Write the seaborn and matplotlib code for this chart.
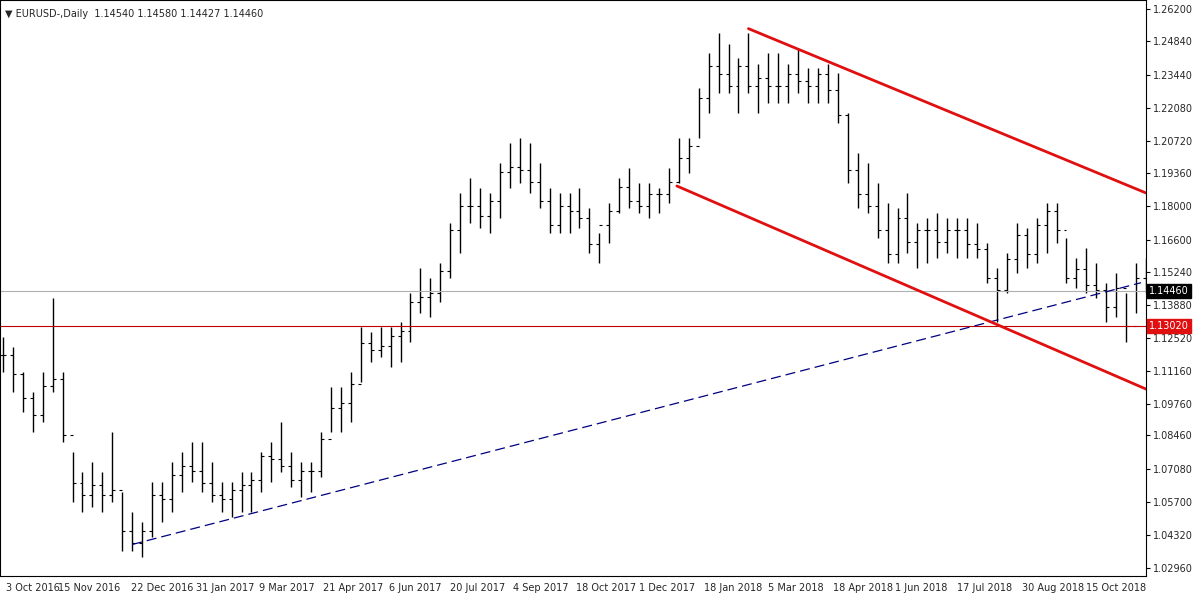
import seaborn as sns
import matplotlib.pyplot as plt
import numpy as np

sns.set_style('white')
plt.rcParams['font.family'] = ['DejaVu Sans']

# price ranges, one bar per ~week
highs = [1.1254, 1.1212, 1.1109, 1.1026, 1.1109, 1.1419, 1.1109, 1.0778, 1.0695, 1.0736,
         1.0695, 1.0860, 1.0612, 1.0529, 1.0488, 1.0653, 1.0653, 1.0736, 1.0778, 1.0819,
         1.0819, 1.0736, 1.0653, 1.0653, 1.0695, 1.0695, 1.0778, 1.0819, 1.0902, 1.0778,
         1.0736, 1.0736, 1.0860, 1.1047, 1.1047, 1.1109, 1.1295, 1.1275, 1.1295, 1.1295,
         1.1316, 1.1440, 1.1544, 1.1502, 1.1564, 1.1730, 1.1854, 1.1916, 1.1875, 1.1854,
         1.1978, 1.2061, 1.2082, 1.2061, 1.1978, 1.1875, 1.1854, 1.1854, 1.1875, 1.1792,
         1.1688, 1.1813, 1.1916, 1.1958, 1.1896, 1.1896, 1.1875, 1.1958, 1.2082, 1.2082,
         1.2289, 1.2434, 1.2517, 1.2475, 1.2413, 1.2517, 1.2392, 1.2434, 1.2434, 1.2392,
         1.2454, 1.2372, 1.2372, 1.2392, 1.2351, 1.2185, 1.2020, 1.1978, 1.1896, 1.1813,
         1.1792, 1.1854, 1.1730, 1.1751, 1.1771, 1.1751, 1.1751, 1.1751, 1.1730, 1.1647,
         1.1544, 1.1606, 1.1730, 1.1709, 1.1751, 1.1813, 1.1813, 1.1668, 1.1585, 1.1626,
         1.1564, 1.1481, 1.1523, 1.1440, 1.1564, 1.1585]
lows = [1.1109, 1.1026, 1.0943, 1.0860, 1.0902, 1.1026, 1.0819, 1.0571, 1.0529, 1.0550,
        1.0529, 1.0571, 1.0364, 1.0364, 1.0343, 1.0426, 1.0488, 1.0529, 1.0612, 1.0653,
        1.0612, 1.0571, 1.0529, 1.0509, 1.0529, 1.0529, 1.0612, 1.0653, 1.0695, 1.0633,
        1.0591, 1.0612, 1.0674, 1.0860, 1.0860, 1.0902, 1.1067, 1.1150, 1.1171, 1.1130,
        1.1150, 1.1233, 1.1357, 1.1337, 1.1399, 1.1502, 1.1606, 1.1730, 1.1709, 1.1688,
        1.1751, 1.1875, 1.1896, 1.1854, 1.1792, 1.1688, 1.1688, 1.1688, 1.1709, 1.1606,
        1.1564, 1.1647, 1.1771, 1.1792, 1.1771, 1.1751, 1.1771, 1.1813, 1.1896, 1.1937,
        1.2082, 1.2185, 1.2268, 1.2268, 1.2185, 1.2268, 1.2185, 1.2227, 1.2227, 1.2227,
        1.2268, 1.2227, 1.2227, 1.2227, 1.2144, 1.1896, 1.1792, 1.1771, 1.1668, 1.1564,
        1.1564, 1.1606, 1.1544, 1.1564, 1.1585, 1.1606, 1.1585, 1.1585, 1.1585, 1.1481,
        1.1316, 1.1440, 1.1523, 1.1544, 1.1564, 1.1606, 1.1647, 1.1481, 1.1461, 1.1440,
        1.1419, 1.1316, 1.1337, 1.1233, 1.1357, 1.1440]
closes = [1.1180, 1.1100, 1.1000, 1.0930, 1.1050, 1.1080, 1.0850, 1.0650, 1.0600, 1.0640,
          1.0600, 1.0620, 1.0450, 1.0400, 1.0450, 1.0600, 1.0580, 1.0680, 1.0720, 1.0700,
          1.0650, 1.0600, 1.0580, 1.0620, 1.0640, 1.0660, 1.0760, 1.0750, 1.0720, 1.0660,
          1.0700, 1.0700, 1.0830, 1.0960, 1.0980, 1.1060, 1.1230, 1.1200, 1.1220, 1.1260,
          1.1280, 1.1400, 1.1420, 1.1440, 1.1530, 1.1700, 1.1800, 1.1800, 1.1760, 1.1820,
          1.1940, 1.1960, 1.1950, 1.1900, 1.1820, 1.1720, 1.1800, 1.1780, 1.1750, 1.1640,
          1.1720, 1.1780, 1.1880, 1.1820, 1.1800, 1.1850, 1.1850, 1.1900, 1.2000, 1.2050,
          1.2250, 1.2380, 1.2350, 1.2300, 1.2380, 1.2300, 1.2330, 1.2300, 1.2300, 1.2350,
          1.2320, 1.2300, 1.2350, 1.2280, 1.2180, 1.1950, 1.1850, 1.1800, 1.1700, 1.1600,
          1.1750, 1.1650, 1.1700, 1.1700, 1.1650, 1.1700, 1.1700, 1.1640, 1.1620, 1.1500,
          1.1450, 1.1580, 1.1680, 1.1600, 1.1720, 1.1780, 1.1700, 1.1500, 1.1540, 1.1470,
          1.1450, 1.1380, 1.1460, 1.1300, 1.1500, 1.1446]

tick_labels = ['3 Oct 2016', '15 Nov 2016', '22 Dec 2016', '31 Jan 2017', '9 Mar 2017',
               '21 Apr 2017', '6 Jun 2017', '20 Jul 2017', '4 Sep 2017', '18 Oct 2017',
               '1 Dec 2017', '18 Jan 2018', '5 Mar 2018', '18 Apr 2018', '1 Jun 2018',
               '17 Jul 2018', '30 Aug 2018', '15 Oct 2018']
tick_pos = [0.3, 5.5, 12.9, 19.4, 25.8, 32.2, 38.8, 45.0, 51.3, 57.7,
            64.0, 70.5, 77.0, 83.5, 89.7, 96.0, 102.5, 109.0]
price_ticks = [1.0296, 1.0432, 1.0570, 1.0708, 1.0846, 1.0976, 1.1116, 1.1252, 1.1388,
               1.1524, 1.1660, 1.1800, 1.1936, 1.2072, 1.2208, 1.2344, 1.2484, 1.2620]

last_price = 1.1446
support = 1.1302
trend_pts = ([13, 114.5], [1.0393, 1.1481])          # blue dashed
upper_chan = ([75, 115], [1.2537, 1.1854])            # red channel
lower_chan = ([67.8, 115], [1.1883, 1.1039])

fig = plt.figure(figsize=(12, 6), dpi=100)
ax = fig.add_axes([0.0, 0.04, 0.955, 0.96])

x = np.arange(len(highs))
opens = np.r_[closes[0], closes[:-1]]
ax.vlines(x, lows, highs, color='black', lw=1)
ax.hlines(opens, x - 0.3, x, color='black', lw=0.8)
ax.hlines(closes, x, x + 0.3, color='black', lw=0.8)

ax.axhline(last_price, color='#b0b0b0', lw=0.8)
ax.axhline(support, color='#c00000', lw=0.8)
ax.plot(*trend_pts, color='#000080', lw=0.9, ls=(0, (8, 4)))
ax.plot(*upper_chan, color='#e01010', lw=2)
ax.plot(*lower_chan, color='#e01010', lw=2)

ax.set_xlim(-0.3, 115)
ax.set_ylim(1.0262, 1.2656)
ax.set_xticks(tick_pos)
ax.set_xticklabels(tick_labels, ha='left', fontsize=7)
ax.yaxis.tick_right()
ax.set_yticks(price_ticks)
ax.set_yticklabels([f'{v:.5f}' for v in price_ticks], fontsize=7)
ax.tick_params(length=3, color='black', pad=2)
for s in ax.spines.values():
    s.set_color('black')
    s.set_linewidth(0.8)

for val, fc in [(last_price, 'black'), (support, '#e01010')]:
    ax.text(1.003, val, f'{val:.5f}', transform=ax.get_yaxis_transform(), fontsize=7,
            color='white', va='center', ha='left',
            bbox=dict(boxstyle='square,pad=0.2', fc=fc, ec=fc))

ax.text(0.004, 0.985, '\u25bc EURUSD-,Daily  1.14540 1.14580 1.14427 1.14460',
        transform=ax.transAxes, fontsize=7, va='top')

fig.savefig('out.png')
